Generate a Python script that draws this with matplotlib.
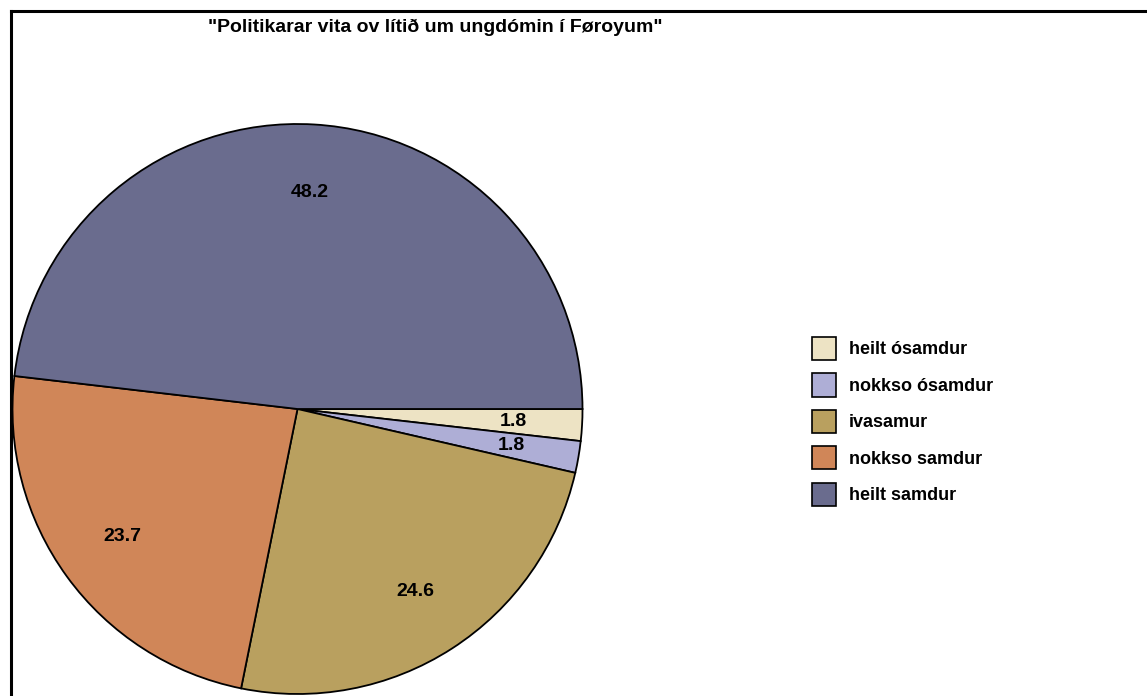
import matplotlib.pyplot as plt
from matplotlib.patches import Patch
from matplotlib.lines import Line2D

plt.rcParams['font.family'] = ['Liberation Sans', 'DejaVu Sans']

categories = ['heilt ósamdur', 'nokkso ósamdur', 'ivasamur', 'nokkso samdur', 'heilt samdur']
values = [1.8, 1.8, 24.6, 23.7, 48.2]
colors = ['#EDE3C4', '#AEAED6', '#B9A05F', '#D08658', '#6A6C8E']
title = '"Politikarar vita ov lítið um ungdómin í Føroyum"'

W, H = 1147, 696
fig = plt.figure(figsize=(W / 100, H / 100), dpi=100)

# pie axes placed in pixel terms: centre (297, 409), radius 285
cx, cy, r = 297.5, 409, 285
ax = fig.add_axes([(cx - r) / W, 1 - (cy + r) / H, 2 * r / W, 2 * r / H])
wedges, texts, autotexts = ax.pie(
    values, colors=colors, startangle=0, counterclock=False,
    autopct='%.1f', pctdistance=0.76,
    wedgeprops=dict(edgecolor='black', linewidth=1.3),
    textprops=dict(fontsize=14, fontweight='bold', color='black'))
for t, v in zip(autotexts, values):
    t.set_text(f'{v}')
ax.set_xlim(-1, 1)
ax.set_ylim(-1, 1)
ax.set_aspect('auto')
ax.axis('off')

fig.text(435 / W, 1 - 27 / H, title, ha='center', va='center',
         fontsize=14, fontweight='bold')

handles = [Patch(facecolor=c, edgecolor='black', linewidth=1.2) for c in colors]
fig.legend(handles, categories, loc='upper left',
           bbox_to_anchor=(812 / W, 1 - 337 / H), bbox_transform=fig.transFigure,
           frameon=False, borderpad=0, borderaxespad=0,
           prop=dict(size=13, weight='bold'),
           handlelength=1.33, handleheight=1.59, labelspacing=0.74, handletextpad=0.72)

# frame lines (top and left, the rest is cut off)
fig.add_artist(Line2D([10.5 / W, 1], [1 - 10.5 / H, 1 - 10.5 / H], transform=fig.transFigure,
                      color='black', linewidth=2.2))
fig.add_artist(Line2D([10.5 / W, 10.5 / W], [0, 1 - 10.5 / H], transform=fig.transFigure,
                      color='black', linewidth=2.2))

fig.savefig('out.png', dpi=100)
